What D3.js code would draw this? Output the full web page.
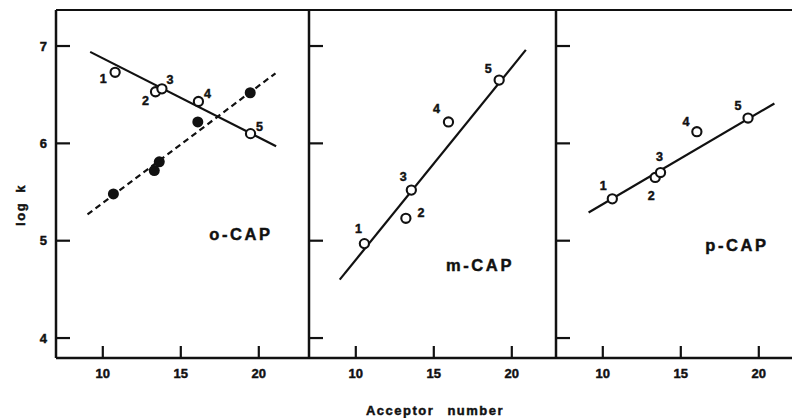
<!DOCTYPE html>
<html><head><meta charset="utf-8">
<script src="https://cdn.jsdelivr.net/npm/d3@7"></script>
<style>
body{margin:0;background:#fff;}
svg{display:block;}
text{font-family:"Liberation Sans",Arial,sans-serif;font-weight:bold;fill:#111;stroke:#111;stroke-width:0.45px;}
</style></head>
<body>
<svg id="c" width="792" height="418"></svg>
<script>
// ---- data ----
const panelNames = ["o-CAP", "m-CAP", "p-CAP"];
const pointLabels = ["1", "2", "3", "4", "5"];
const xTicks = [10, 15, 20];
const yTicks = [4, 5, 6, 7];
// open circles (acceptor number, log k)
const oCapX = [10.79, 13.38, 13.79, 16.13, 19.47];
const oCapY = [6.73, 6.53, 6.56, 6.43, 6.10];
// filled circles in o-CAP panel
const oCapFilledX = [10.68, 13.30, 13.62, 16.09, 19.45];
const oCapFilledY = [5.48, 5.72, 5.81, 6.22, 6.52];
const mCapX = [10.55, 13.21, 13.56, 15.94, 19.19];
const mCapY = [4.97, 5.23, 5.52, 6.22, 6.65];
const pCapX = [10.61, 13.36, 13.70, 16.03, 19.31];
const pCapY = [5.43, 5.65, 5.70, 6.12, 6.26];
// fitted lines [x0, y0, x1, y1]
const oCapLine = [9.19, 6.94, 21.11, 5.97];
const oCapDashLine = [9.02, 5.27, 21.07, 6.72];
const mCapLine = [8.97, 4.60, 20.90, 6.96];
const pCapLine = [9.09, 5.29, 21.00, 6.41];

// ---- layout ----
const svg = d3.select("#c");
const topY = 10, bottomY = 358;
const lefts = [56, 309, 556];
const unit = 15.6;
const y = d3.scaleLinear().domain([3.795, 7.37]).range([bottomY, topY]);

const panels = [
  {name: panelNames[0], xs: oCapX, ys: oCapY, line: oCapLine,
   fx: oCapFilledX, fy: oCapFilledY, dash: oCapDashLine,
   labOff: [[-12, 6], [-10, 9], [8, -9], [9, -8], [9, -7]],
   namePos: [241, 234]},
  {name: panelNames[1], xs: mCapX, ys: mCapY, line: mCapLine,
   labOff: [[-6, -15], [15, -6], [-8, -13], [-12, -13], [-11, -11]],
   namePos: [480, 265]},
  {name: panelNames[2], xs: pCapX, ys: pCapY, line: pCapLine,
   labOff: [[-9, -13], [-4, 18], [-1, -16], [-11, -10], [-10, -12]],
   namePos: [737, 245]}
];

const g = svg.append("g");

// frame: top line and bottom axis line
g.append("line").attr("x1", lefts[0]).attr("x2", 792).attr("y1", topY).attr("y2", topY)
  .attr("stroke", "#111").attr("stroke-width", 2.2);
g.append("line").attr("x1", lefts[0]).attr("x2", 792).attr("y1", bottomY).attr("y2", bottomY)
  .attr("stroke", "#111").attr("stroke-width", 2.5);

panels.forEach((p, i) => {
  const L = lefts[i];
  const x = d3.scaleLinear().domain([7, 23]).range([L, L + 16 * unit]);
  const pg = g.append("g");
  // left axis line
  pg.append("line").attr("x1", L).attr("x2", L).attr("y1", topY).attr("y2", bottomY)
    .attr("stroke", "#111").attr("stroke-width", 2.5);
  // y ticks (inward)
  pg.selectAll(".yt").data(yTicks).enter().append("line")
    .attr("x1", L).attr("x2", L + 14).attr("y1", d => y(d)).attr("y2", d => y(d))
    .attr("stroke", "#111").attr("stroke-width", 2.2);
  if (i === 0) {
    pg.selectAll(".yl").data(yTicks).enter().append("text")
      .attr("x", L - 9).attr("y", d => y(d)).attr("dy", "0.35em")
      .attr("text-anchor", "end").attr("font-size", 13).text(d => d);
  }
  // x ticks (inward, up)
  pg.selectAll(".xt").data(xTicks).enter().append("line")
    .attr("x1", d => x(d)).attr("x2", d => x(d)).attr("y1", bottomY).attr("y2", bottomY - 12)
    .attr("stroke", "#111").attr("stroke-width", 2.2);
  pg.selectAll(".xl").data(xTicks).enter().append("text")
    .attr("x", d => x(d)).attr("y", bottomY + 15).attr("dy", "0.35em")
    .attr("text-anchor", "middle").attr("font-size", 13).text(d => d);

  // fitted lines
  const ln = p.line;
  pg.append("line").attr("x1", x(ln[0])).attr("y1", y(ln[1])).attr("x2", x(ln[2])).attr("y2", y(ln[3]))
    .attr("stroke", "#111").attr("stroke-width", 2.2);
  if (p.dash) {
    const d = p.dash;
    pg.append("line").attr("x1", x(d[0])).attr("y1", y(d[1])).attr("x2", x(d[2])).attr("y2", y(d[3]))
      .attr("stroke", "#111").attr("stroke-width", 2.2).attr("stroke-dasharray", "6,4");
    pg.selectAll(".fc").data(p.fx.map((v, k) => [v, p.fy[k]])).enter().append("circle")
      .attr("cx", d => x(d[0])).attr("cy", d => y(d[1])).attr("r", 5.5).attr("fill", "#111");
  }
  // open circles
  const pts = p.xs.map((v, k) => [v, p.ys[k], k]);
  pg.selectAll(".oc").data(pts).enter().append("circle")
    .attr("cx", d => x(d[0])).attr("cy", d => y(d[1])).attr("r", 4.6)
    .attr("fill", "#fff").attr("stroke", "#111").attr("stroke-width", 2.1);
  pg.selectAll(".pl").data(pts).enter().append("text")
    .attr("x", d => x(d[0]) + p.labOff[d[2]][0]).attr("y", d => y(d[1]) + p.labOff[d[2]][1])
    .attr("dy", "0.35em").attr("text-anchor", "middle").attr("font-size", 12.5)
    .text(d => pointLabels[d[2]]);
  // panel name
  pg.append("text").attr("x", p.namePos[0]).attr("y", p.namePos[1]).attr("dy", "0.35em")
    .attr("text-anchor", "middle").attr("font-size", 16.5).attr("letter-spacing", 2.6)
    .text(p.name);
});

// axis titles
svg.append("text").attr("transform", "translate(20,205) rotate(-90)")
  .attr("text-anchor", "middle").attr("dy", "0.35em").attr("font-size", 13)
  .attr("letter-spacing", 1.5).attr("word-spacing", 4).text("log k");
svg.append("text").attr("x", 435).attr("y", 410).attr("dy", "0.35em")
  .attr("text-anchor", "middle").attr("font-size", 13).attr("letter-spacing", 1.5)
  .attr("word-spacing", 8).text("Acceptor number");
</script>
</body></html>
